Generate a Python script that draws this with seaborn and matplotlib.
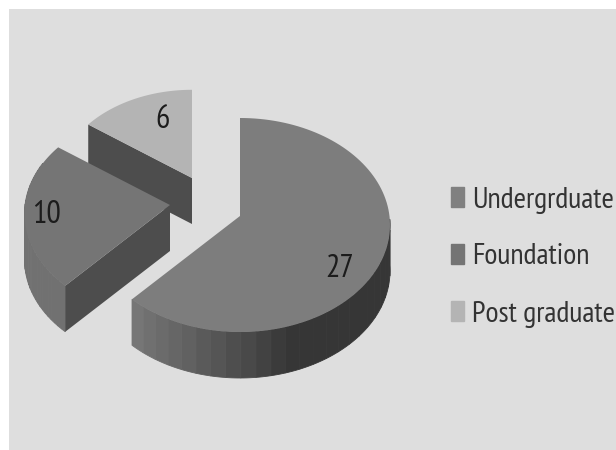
import numpy as np
import matplotlib
matplotlib.use("Agg")
import matplotlib.pyplot as plt
from matplotlib.patches import Rectangle
import seaborn as sns

# data
categories = ["Undergrduate", "Foundation", "Post graduate"]
values = [27, 10, 6]

sns.set_theme(style="white")
plt.rcParams['font.family'] = ['PT Sans Narrow', 'Roboto Condensed', 'Lato', 'DejaVu Sans']

top_colors = sns.color_palette(["#7d7d7d", "#757575", "#b4b4b4"])
cut_color = "#4d4d4d"
legend_colors = sns.color_palette(["#808080", "#747474", "#b4b4b4"])
wall_shades = sns.blend_palette(["#777777", "#363636"], 50)

# 3d pie set up, all in pixels
rx, ry = 150, 107
depth = 46
apex_x = [240, 170, 192]
apex_y = [216, 205, 178]
scale = [1.0, 0.97, 0.9]
label_pos = [(340, 269), (47, 215), (163, 120)]

fig = plt.figure(figsize=(6.16, 4.5), dpi=100, facecolor="white")
ax = fig.add_axes([0, 0, 1, 1])
ax.set_xlim(0, 616)
ax.set_ylim(450, 0)
ax.axis("off")
ax.add_patch(Rectangle((9, 9), 607, 441, color="#dedede", lw=0, zorder=0))


def rim(i, deg):
    t = np.radians(deg)
    s = scale[i]
    x = apex_x[i] + s * rx * np.sin(t)
    y = apex_y[i] + s * (9 - ry * np.cos(t))
    return x, y


edges = np.cumsum([0] + values) / sum(values) * 360

# draw back to front
for i in [2, 1, 0]:
    a0, a1 = edges[i], edges[i + 1]
    angles = np.linspace(a0, a1, 120)
    xs, ys = rim(i, angles)

    # outer wall, one band per step so it shades like the original
    wall = np.linspace(a0, a1, 40)
    for b0, b1 in zip(wall[:-1], wall[1:]):
        mid = (b0 + b1) / 2
        if not 85 < mid < 300:
            continue
        t = np.linspace(b0, b1, 6)
        bx, by = rim(i, t)
        if i == 0:
            f = np.clip((bx.mean() - 131) / 160, 0, 1)
            shade = wall_shades[int(f * 49)]
        else:
            shade = "#717171"
        ax.fill(np.r_[bx, bx[::-1]], np.r_[by, by[::-1] + depth], color=shade, lw=0.6, zorder=3 - i)

    # cut faces that look at the viewer
    if i in [1, 2]:
        ex, ey = rim(i, a0)
        ax.fill([apex_x[i], ex, ex, apex_x[i]],
                [apex_y[i], ey, ey + depth, apex_y[i] + depth],
                color=cut_color, lw=0, zorder=3.2 - i)

    # top face
    ax.fill(np.r_[apex_x[i], xs], np.r_[apex_y[i], ys], color=top_colors[i], lw=0, zorder=3.4 - i)
    ax.text(label_pos[i][0], label_pos[i][1], str(values[i]), fontsize=23, color="#1c1c1c",
            ha="center", va="center", zorder=6)

# legend
handles = [Rectangle((0, 0), 1, 1, color=c) for c in legend_colors]
ax.legend(handles, categories, loc="center left", bbox_to_anchor=(451 / 616, 1 - 257 / 450),
          frameon=False, fontsize=21.6, labelcolor="#333333", handlelength=0.45, handleheight=0.63,
          handletextpad=0.25, labelspacing=1.0, borderpad=0, borderaxespad=0)

fig.savefig("out.png", dpi=100)
